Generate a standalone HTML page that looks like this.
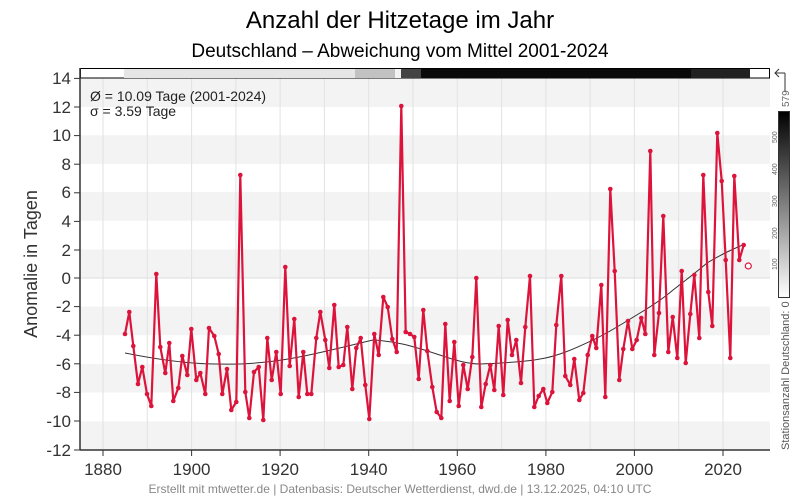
<!DOCTYPE html>
<html><head><meta charset="utf-8"><style>
body{margin:0;background:#fff;}
svg{display:block;font-family:"Liberation Sans",sans-serif;}
</style></head><body>
<svg width="800" height="500" viewBox="0 0 800 500">
<defs>
<linearGradient id="cb" x1="0" y1="0" x2="0" y2="1"><stop offset="0" stop-color="#000"/><stop offset="1" stop-color="#fff"/></linearGradient>
</defs>
<rect width="800" height="500" fill="#fff"/>
<text x="400" y="28" text-anchor="middle" font-size="24" fill="#000">Anzahl der Hitzetage im Jahr</text>
<text x="400" y="57" text-anchor="middle" font-size="19" fill="#000">Deutschland – Abweichung vom Mittel 2001-2024</text>
<!-- bands -->
<g fill="#f3f3f3">
<rect x="80" y="78.4" width="690" height="28.6"/>
<rect x="80" y="135.3" width="690" height="28.6"/>
<rect x="80" y="192.1" width="690" height="28.6"/>
<rect x="80" y="249.4" width="690" height="28.6"/>
<rect x="80" y="306.6" width="690" height="28.6"/>
<rect x="80" y="363.9" width="690" height="28.6"/>
<rect x="80" y="421.4" width="690" height="28.6"/>
</g>
<g stroke="#e2e2e2" stroke-width="1">
<line x1="103" y1="78" x2="103" y2="450"/><line x1="147.3" y1="78" x2="147.3" y2="450"/>
<line x1="191.6" y1="78" x2="191.6" y2="450"/><line x1="235.9" y1="78" x2="235.9" y2="450"/>
<line x1="280.1" y1="78" x2="280.1" y2="450"/><line x1="324.4" y1="78" x2="324.4" y2="450"/>
<line x1="368.7" y1="78" x2="368.7" y2="450"/><line x1="413" y1="78" x2="413" y2="450"/>
<line x1="457.3" y1="78" x2="457.3" y2="450"/><line x1="501.6" y1="78" x2="501.6" y2="450"/>
<line x1="545.9" y1="78" x2="545.9" y2="450"/><line x1="590.1" y1="78" x2="590.1" y2="450"/>
<line x1="634.4" y1="78" x2="634.4" y2="450"/><line x1="678.7" y1="78" x2="678.7" y2="450"/>
<line x1="723" y1="78" x2="723" y2="450"/>
</g>
<line x1="80" y1="278" x2="770" y2="278" stroke="#dcdcdc" stroke-width="1"/>
<!-- top station bar -->
<rect x="80.5" y="68.5" width="689" height="9.5" fill="#fff" stroke="#000"/>
<rect x="124" y="69" width="231" height="9" fill="#e6e6e6"/>
<rect x="355" y="69" width="40" height="9" fill="#c2c2c2"/>
<rect x="395" y="69" width="6" height="9" fill="#f2f2f2"/>
<rect x="401" y="69" width="20" height="9" fill="#444"/>
<rect x="421" y="69" width="270" height="9" fill="#0a0a0a"/>
<rect x="691" y="69" width="59" height="9" fill="#222"/>
<!-- stats text -->
<text x="90" y="101" font-size="14" fill="#222">Ø = 10.09 Tage (2001-2024)</text>
<text x="90" y="116" font-size="14" fill="#222">σ = 3.59 Tage</text>
<!-- trend -->
<path d="M125,353 C170,362 200,365 240,364 C290,362 330,350 373,340 C395,341 414,347 414,347 C440,354 460,364 480,364 C505,363 530,361 540,359 C560,356 580,346 593,340 C610,332 625,322 640,313 C655,304 665,297 673,290 C690,277 700,269 707,263 C720,255 735,248 743,245" fill="none" stroke="#333" stroke-width="1"/>
<!-- series -->
<polyline id="s" fill="none" stroke="#dc143c" stroke-width="2.2" stroke-linejoin="round" points="125,334 129.3,312 133.3,346 138,384 142.3,367 147,394 151.3,406 156.3,274 160.3,347 165.3,373 169.3,343 173.3,401 178.3,388 182.3,356 187.3,375 191.3,329 196.3,380 200.3,373 205.3,394 209,328 214.3,336 218.7,354 222.3,394 227,369 231.3,410 236.3,402 240.3,175 245.3,392 249.3,418 254,372 258.7,367 263.3,420 267.3,338 271.7,380 276.3,352 280.7,394 285.3,267 289.7,366 294.3,319 298.7,397 303.3,352 307.3,394 311.3,394 316.3,338 320.3,312 325.3,340 329.3,368 334.3,305 338.7,367 343.3,365 347.3,327 352.3,389 356.3,348 360.7,338 365.3,385 369.3,419 374.3,334 378.7,355 383.3,297 387.7,307 392.3,339 396.7,352 401.3,106 405.7,332 410,334 414.3,337 418.7,379 423.3,310 427.3,351 432.3,387 436.7,412 441.3,418 445.3,324 449.7,401 454.3,342 458.7,406 463.3,365 467.7,389 472.3,357 476.3,278 481.3,407 485.7,384 490.3,365 494.3,390 498.7,326 503.3,395 507.7,320 512,355 516.3,340 521,383 525.3,327 530,276 534.3,407 538.7,396 543.3,389 547.3,403 552.3,392 556.3,325 561.3,276 565.3,376 570.3,385 574.3,359 579.3,400 583.3,393 587.7,355 592.3,336 596.3,348 601.3,285 605.3,397 610.3,189 614.7,271 619.3,380 623.3,349 628,321 632.3,349 636.7,340 641.3,318 645.3,334 650.3,151 654.3,355 659,313 663.3,216 668.3,352 672.7,317 677.3,358 681.7,271 685.7,363 690.3,314 694.3,275 699.3,338 703.3,175 708.3,292 712.3,326 717.3,133 721.7,181 725.7,260 730.3,358 734.3,176 739.3,260 743.7,245"/>
<g fill="#dc143c" id="dots"></g>
<circle cx="748.3" cy="266" r="3" fill="#fff" stroke="#dc143c" stroke-width="1.2"/>
<!-- axes -->
<g stroke="#333" stroke-width="1.5">
<line x1="80" y1="68" x2="80" y2="450"/><line x1="80" y1="450" x2="770" y2="450"/>
</g>
<g stroke="#333" stroke-width="1">
<line x1="74" y1="78.4" x2="80" y2="78.4"/><line x1="74" y1="107" x2="80" y2="107"/><line x1="74" y1="135.6" x2="80" y2="135.6"/><line x1="74" y1="164.2" x2="80" y2="164.2"/><line x1="74" y1="192.8" x2="80" y2="192.8"/><line x1="74" y1="221.4" x2="80" y2="221.4"/><line x1="74" y1="250" x2="80" y2="250"/><line x1="74" y1="278" x2="80" y2="278"/><line x1="74" y1="306.6" x2="80" y2="306.6"/><line x1="74" y1="335.2" x2="80" y2="335.2"/><line x1="74" y1="363.8" x2="80" y2="363.8"/><line x1="74" y1="392.4" x2="80" y2="392.4"/><line x1="74" y1="421" x2="80" y2="421"/><line x1="74" y1="450" x2="80" y2="450"/>
<line x1="103" y1="450" x2="103" y2="456"/><line x1="191.6" y1="450" x2="191.6" y2="456"/><line x1="280.1" y1="450" x2="280.1" y2="456"/><line x1="368.7" y1="450" x2="368.7" y2="456"/><line x1="457.3" y1="450" x2="457.3" y2="456"/><line x1="545.9" y1="450" x2="545.9" y2="456"/><line x1="634.4" y1="450" x2="634.4" y2="456"/><line x1="723" y1="450" x2="723" y2="456"/>
</g>
<g font-size="17" fill="#333" text-anchor="end">
<text x="71" y="84">14</text><text x="71" y="113">12</text><text x="71" y="141">10</text><text x="71" y="170">8</text><text x="71" y="198">6</text><text x="71" y="227">4</text><text x="71" y="256">2</text><text x="71" y="284">0</text><text x="71" y="312">-2</text><text x="71" y="341">-4</text><text x="71" y="370">-6</text><text x="71" y="398">-8</text><text x="71" y="427">-10</text><text x="71" y="456">-12</text>
</g>
<g font-size="17" fill="#333" text-anchor="middle">
<text x="103" y="475">1880</text><text x="191.6" y="475">1900</text><text x="280.1" y="475">1920</text><text x="368.7" y="475">1940</text><text x="457.3" y="475">1960</text><text x="545.9" y="475">1980</text><text x="634.4" y="475">2000</text><text x="723" y="475">2020</text>
</g>
<text transform="translate(37,264) rotate(-90)" text-anchor="middle" font-size="18" fill="#333">Anomalie in Tagen</text>
<!-- colorbar -->
<path d="M785,73 L775,73 M779,69 L775,73 L779,77 M785,73 L785,92" stroke="#333" fill="none" stroke-width="1"/>
<text transform="translate(789,107) rotate(-90)" font-size="10" fill="#666">579</text>
<rect x="778.5" y="111.5" width="11" height="186" fill="url(#cb)" stroke="#333" stroke-width="1"/>
<g font-size="7" fill="#666">
<text transform="translate(777,143) rotate(-90)">500</text>
<text transform="translate(777,175) rotate(-90)">400</text>
<text transform="translate(777,207) rotate(-90)">300</text>
<text transform="translate(777,239) rotate(-90)">200</text>
<text transform="translate(777,270) rotate(-90)">100</text>
</g>
<text transform="translate(789,450) rotate(-90)" font-size="11" fill="#555">Stationsanzahl Deutschland: 0</text>
<text x="400" y="493" text-anchor="middle" font-size="12" fill="#888">Erstellt mit mtwetter.de | Datenbasis: Deutscher Wetterdienst, dwd.de | 13.12.2025, 04:10 UTC</text>
<script>
var p=document.getElementById('s').getAttribute('points').trim().split(/\s+/),g=document.getElementById('dots');
p.forEach(function(q){var a=q.split(','),c=document.createElementNS('http://www.w3.org/2000/svg','circle');c.setAttribute('cx',a[0]);c.setAttribute('cy',a[1]);c.setAttribute('r','2.3');g.appendChild(c);});
</script>
</svg>
</body></html>
